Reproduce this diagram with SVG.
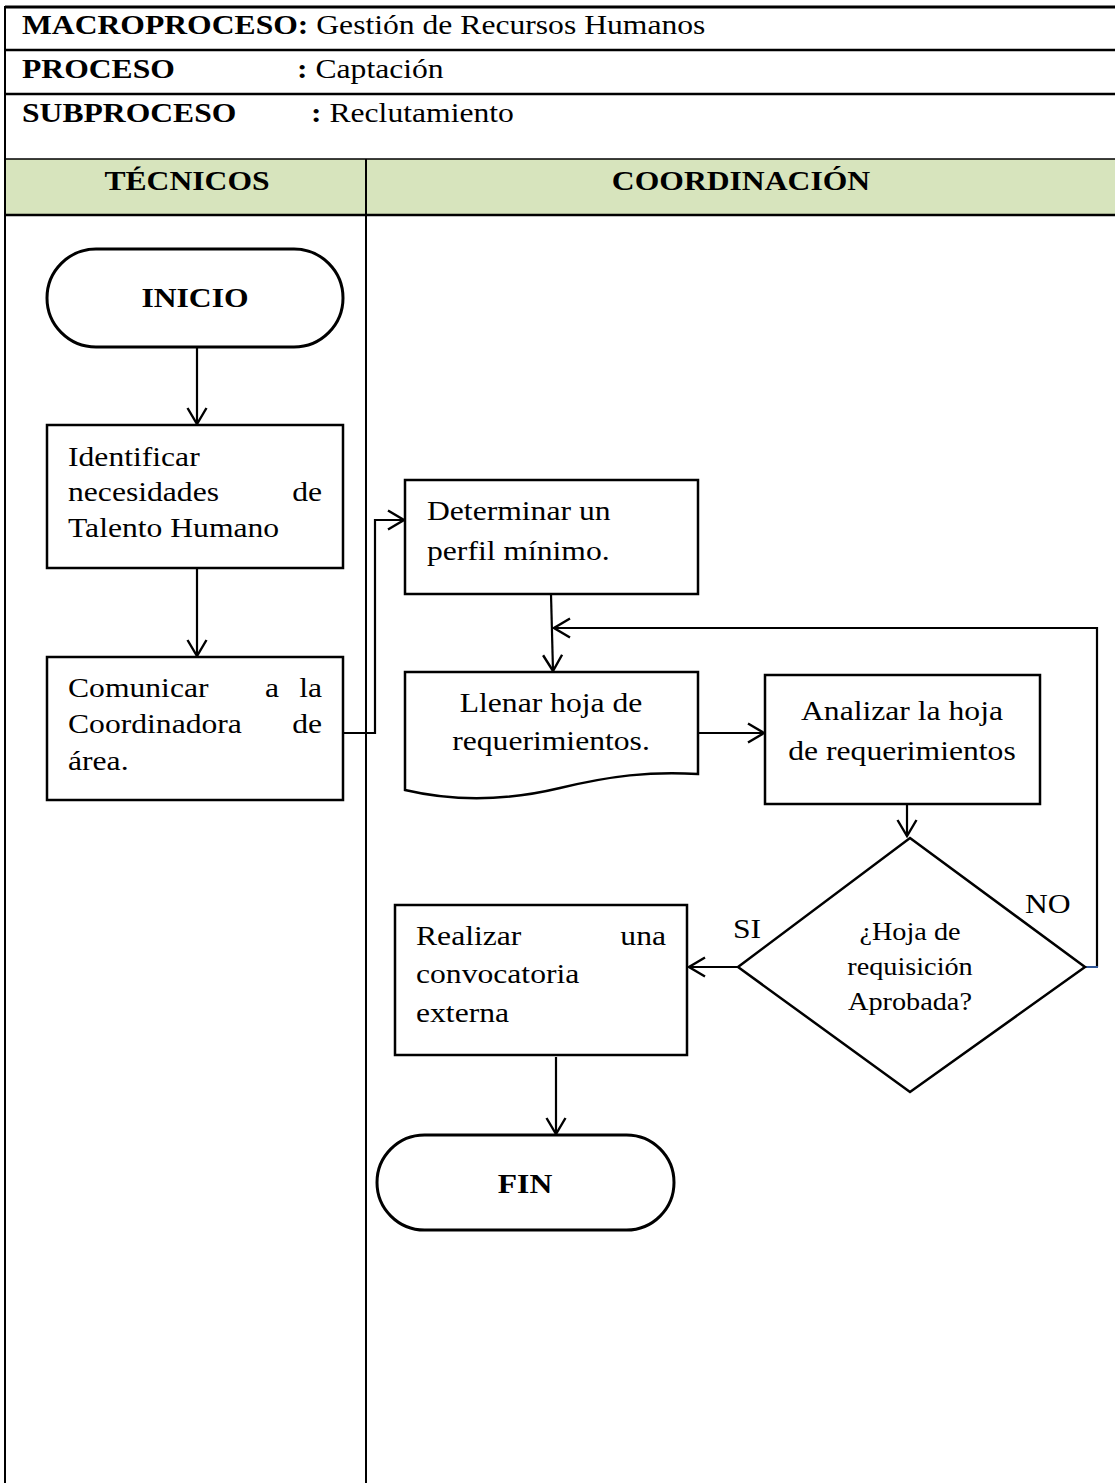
<svg xmlns="http://www.w3.org/2000/svg" width="1115" height="1483" viewBox="0 0 1115 1483">
<style>
.t{font-family:"Liberation Serif","Times New Roman",serif;font-size:28px;fill:#000}
.b{font-weight:bold}
.s{font-size:25px}
.box{fill:#fff;stroke:#000;stroke-width:2.5}
.term{fill:#fff;stroke:#000;stroke-width:3}
.ln{fill:none;stroke:#000;stroke-width:2.2}
.grid{stroke:#000;fill:none}
</style>
<defs>
<marker id="arr" viewBox="0 0 22 22" refX="20" refY="11" markerWidth="22" markerHeight="22" orient="auto" markerUnits="userSpaceOnUse">
<path d="M4,1.5 L20,11 L4,20.5" fill="none" stroke="#000" stroke-width="2.4"/>
</marker>
</defs>
<g id="table">
<rect x="5" y="159" width="1110" height="56" fill="#D7E4BD"/>
<line class="grid" x1="5" y1="7" x2="1115" y2="7" stroke-width="3"/>
<line class="grid" x1="5" y1="50" x2="1115" y2="50" stroke-width="2.5"/>
<line class="grid" x1="5" y1="94" x2="1115" y2="94" stroke-width="2.5"/>
<line class="grid" x1="5" y1="159" x2="1115" y2="159" stroke-width="1.5"/>
<line class="grid" x1="5" y1="215" x2="1115" y2="215" stroke-width="2.5"/>
<line class="grid" x1="5" y1="6" x2="5" y2="1483" stroke-width="2"/>
<line class="grid" x1="366" y1="159" x2="366" y2="1483" stroke-width="2"/>
<text class="t" transform="translate(22 34) scale(1.13 1)"><tspan class="b">MACROPROCESO:</tspan> Gestión de Recursos Humanos</text>
<text class="t b" transform="translate(22 78) scale(1.13 1)">PROCESO</text>
<text class="t" transform="translate(297 78) scale(1.13 1)"><tspan class="b">:</tspan> Captación</text>
<text class="t b" transform="translate(22 122) scale(1.13 1)">SUBPROCESO</text>
<text class="t" transform="translate(311 122) scale(1.13 1)"><tspan class="b">:</tspan> Reclutamiento</text>
<text class="t b" text-anchor="middle" transform="translate(187 190) scale(1.13 1)">TÉCNICOS</text>
<text class="t b" text-anchor="middle" transform="translate(741 190) scale(1.13 1)">COORDINACIÓN</text>
</g>
<g id="connectors">
<line class="ln" x1="197" y1="347" x2="197" y2="424" marker-end="url(#arr)"/>
<line class="ln" x1="197" y1="568" x2="197" y2="656" marker-end="url(#arr)"/>
<path class="ln" d="M343,733 H375 V520 H404" marker-end="url(#arr)"/>
<path class="ln" d="M551,594 L553,671" marker-end="url(#arr)"/>
<path class="ln" d="M1097,967 V628 H554" marker-end="url(#arr)"/>
<line x1="1085" y1="967" x2="1098" y2="967" stroke="#2F5597" stroke-width="2"/>
<line class="ln" x1="698" y1="733" x2="764" y2="733" marker-end="url(#arr)"/>
<line class="ln" x1="907" y1="804" x2="907" y2="836" marker-end="url(#arr)"/>
<line class="ln" x1="738" y1="967" x2="689" y2="967" marker-end="url(#arr)"/>
<line class="ln" x1="556" y1="1057" x2="556" y2="1134" marker-end="url(#arr)"/>
<text class="t" transform="translate(1025 913) scale(1.13 1)">NO</text>
<text class="t" transform="translate(733 938) scale(1.13 1)">SI</text>
</g>
<g id="inicio">
<rect class="term" x="47" y="249" width="296" height="98" rx="49"/>
<text class="t b" text-anchor="middle" transform="translate(195 307) scale(1.13 1)">INICIO</text>
</g>
<g id="identificar">
<rect class="box" x="47" y="425" width="296" height="143"/>
<text class="t" transform="translate(68 466) scale(1.13 1)">Identificar</text>
<text class="t" transform="translate(68 501) scale(1.13 1)">necesidades</text>
<text class="t" text-anchor="end" transform="translate(322 501) scale(1.13 1)">de</text>
<text class="t" transform="translate(68 537) scale(1.13 1)">Talento Humano</text>
</g>
<g id="comunicar">
<rect class="box" x="47" y="657" width="296" height="143"/>
<text class="t" transform="translate(68 697) scale(1.13 1)">Comunicar</text>
<text class="t" transform="translate(265 697) scale(1.13 1)">a</text>
<text class="t" text-anchor="end" transform="translate(322 697) scale(1.13 1)">la</text>
<text class="t" transform="translate(68 733) scale(1.13 1)">Coordinadora</text>
<text class="t" text-anchor="end" transform="translate(322 733) scale(1.13 1)">de</text>
<text class="t" transform="translate(68 770) scale(1.13 1)">área.</text>
</g>
<g id="determinar">
<rect class="box" x="405" y="480" width="293" height="114"/>
<text class="t" transform="translate(427 520) scale(1.13 1)">Determinar un</text>
<text class="t" transform="translate(427 560) scale(1.13 1)">perfil mínimo.</text>
</g>
<g id="llenar">
<path class="box" d="M405,672 H698 V774 C650,771 610,776 560,788 C510,800 460,803 405,790 Z"/>
<text class="t" text-anchor="middle" transform="translate(551 712) scale(1.13 1)">Llenar hoja de</text>
<text class="t" text-anchor="middle" transform="translate(551 750) scale(1.13 1)">requerimientos.</text>
</g>
<g id="analizar">
<rect class="box" x="765" y="675" width="275" height="129"/>
<text class="t" text-anchor="middle" transform="translate(902 720) scale(1.13 1)">Analizar la hoja</text>
<text class="t" text-anchor="middle" transform="translate(902 760) scale(1.13 1)">de requerimientos</text>
</g>
<g id="decision">
<polygon class="box" points="910,838 1085,967 910,1092 738,967"/>
<text class="t s" text-anchor="middle" transform="translate(910 940) scale(1.13 1)">¿Hoja de</text>
<text class="t s" text-anchor="middle" transform="translate(910 975) scale(1.13 1)">requisición</text>
<text class="t s" text-anchor="middle" transform="translate(910 1010) scale(1.13 1)">Aprobada?</text>
</g>
<g id="realizar">
<rect class="box" x="395" y="905" width="292" height="150"/>
<text class="t" transform="translate(416 945) scale(1.13 1)">Realizar</text>
<text class="t" text-anchor="end" transform="translate(666 945) scale(1.13 1)">una</text>
<text class="t" transform="translate(416 983) scale(1.13 1)">convocatoria</text>
<text class="t" transform="translate(416 1022) scale(1.13 1)">externa</text>
</g>
<g id="fin">
<rect class="term" x="377" y="1135" width="297" height="95" rx="47.5"/>
<text class="t b" text-anchor="middle" transform="translate(525 1193) scale(1.13 1)">FIN</text>
</g>
</svg>
